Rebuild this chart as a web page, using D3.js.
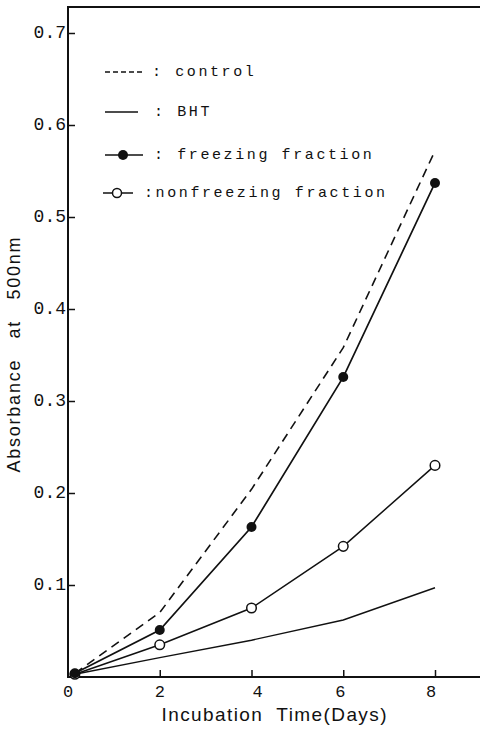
<!DOCTYPE html>
<html>
<head>
<meta charset="utf-8">
<script src="https://cdn.jsdelivr.net/npm/d3@7"></script>
<style>
  html, body { margin: 0; padding: 0; background: #fff; }
  svg { display: block; }
  text { white-space: pre; }
</style>
</head>
<body>
<svg id="chart" width="480" height="740"></svg>
<script>
// Incubation days (first reading taken just after day 0)
const days = [0.15, 2, 4, 6, 8];

// Absorbance at 500 nm for each treatment
const control     = [0.004, 0.070, 0.204, 0.358, 0.572];
const bht         = [0.003, 0.021, 0.040, 0.062, 0.097];
const freezing    = [0.004, 0.051, 0.163, 0.326, 0.537];
const nonfreezing = [0.003, 0.035, 0.075, 0.142, 0.230];

// Axis ticks and labels
const xTicks = [0, 2, 4, 6, 8];
const yTicks = [0.1, 0.2, 0.3, 0.4, 0.5, 0.6, 0.7];
const legendLabels = [": control", ": BHT", ": freezing fraction", ":nonfreezing fraction"];

const svg = d3.select("#chart");
const W = 480, H = 740;

const axisLeft = 68, axisBottom = 677, frameTop = 7;
const x = d3.scaleLinear().domain([0, 8]).range([axisLeft, 435]);
const y = d3.scaleLinear().domain([0, 0.7]).range([axisBottom, 33]);

const ink = "#111";
const monoFont = "'Liberation Mono', 'DejaVu Sans Mono', monospace";
const sansFont = "'Liberation Sans', Arial, sans-serif";

// Frame: left axis, bottom axis, top border
const frame = svg.append("g").attr("stroke", ink).attr("stroke-width", 2).attr("fill", "none");
frame.append("line").attr("x1", axisLeft).attr("x2", axisLeft).attr("y1", frameTop).attr("y2", axisBottom);
frame.append("line").attr("x1", axisLeft - 1).attr("x2", W).attr("y1", axisBottom).attr("y2", axisBottom);
frame.append("line").attr("x1", axisLeft - 1).attr("x2", W).attr("y1", frameTop).attr("y2", frameTop);

// Y axis: short inward ticks, labels left of the axis
const yAxis = d3.axisRight(y).tickValues(yTicks).tickSize(7).tickFormat("");
const gy = svg.append("g").attr("transform", `translate(${axisLeft},0)`).call(yAxis);
gy.select(".domain").remove();
gy.selectAll(".tick line").attr("stroke", ink).attr("stroke-width", 1.5);

svg.append("g").selectAll("text").data(yTicks).join("text")
  .attr("x", axisLeft - 2)
  .attr("y", d => y(d))
  .attr("text-anchor", "end")
  .attr("dominant-baseline", "central")
  .attr("font-family", monoFont)
  .attr("font-size", 18)
  .attr("fill", ink)
  .text(d => d3.format(".1f")(d));

// X axis: short inward ticks, labels below
const xAxis = d3.axisTop(x).tickValues(xTicks.filter(d => d > 0)).tickSize(7).tickFormat("");
const gx = svg.append("g").attr("transform", `translate(0,${axisBottom})`).call(xAxis);
gx.select(".domain").remove();
gx.selectAll(".tick line").attr("stroke", ink).attr("stroke-width", 1.5);

svg.append("g").selectAll("text").data(xTicks).join("text")
  .attr("x", d => x(d) + (d === 4 ? 6 : d === 8 ? -4 : d === 6 ? -3 : 0))
  .attr("y", 697)
  .attr("text-anchor", "middle")
  .attr("font-family", monoFont)
  .attr("font-size", 17)
  .attr("fill", ink)
  .text(d => d);

// Axis titles
svg.append("text")
  .attr("x", 274).attr("y", 721)
  .attr("text-anchor", "middle")
  .attr("font-family", sansFont)
  .attr("font-size", 19)
  .attr("textLength", 225)
  .attr("lengthAdjust", "spacing")
  .attr("fill", ink)
  .text("Incubation  Time(Days)");

svg.append("text")
  .attr("transform", "translate(20,355) rotate(-90)")
  .attr("text-anchor", "middle")
  .attr("font-family", sansFont)
  .attr("font-size", 18)
  .attr("textLength", 235)
  .attr("lengthAdjust", "spacing")
  .attr("fill", ink)
  .text("Absorbance   at   500nm");

// Data lines
const line = d3.line().x((d, i) => x(days[i])).y(d => y(d));
const plot = svg.append("g").attr("fill", "none").attr("stroke", ink);

plot.append("path").datum(control).attr("d", line)
  .attr("stroke-width", 1.6).attr("stroke-dasharray", "9,6");
plot.append("path").datum(bht).attr("d", line).attr("stroke-width", 1.4);
plot.append("path").datum(nonfreezing).attr("d", line).attr("stroke-width", 1.5);
plot.append("path").datum(freezing).attr("d", line).attr("stroke-width", 1.7);

// Markers
svg.append("g").selectAll("circle").data(nonfreezing).join("circle")
  .attr("cx", (d, i) => x(days[i])).attr("cy", d => y(d)).attr("r", 4.8)
  .attr("fill", "#fff").attr("stroke", ink).attr("stroke-width", 1.5);
svg.append("g").selectAll("circle").data(freezing).join("circle")
  .attr("cx", (d, i) => x(days[i])).attr("cy", d => y(d)).attr("r", 5)
  .attr("fill", ink);

// Legend
const legendRows = [
  { y: 72,  x1: 105, x2: 145, dash: "5,3", marker: null,   tx: 152 },
  { y: 112, x1: 105, x2: 138, dash: null,  marker: null,   tx: 154 },
  { y: 155, x1: 105, x2: 143, dash: null,  marker: "fill", tx: 154, mx: 123 },
  { y: 193, x1: 103, x2: 133, dash: null,  marker: "open", tx: 144, mx: 117 }
];
const lg = svg.append("g");
legendRows.forEach((r, i) => {
  lg.append("line").attr("x1", r.x1).attr("x2", r.x2).attr("y1", r.y).attr("y2", r.y)
    .attr("stroke", ink).attr("stroke-width", 1.5)
    .attr("stroke-dasharray", r.dash);
  if (r.marker === "fill") {
    lg.append("circle").attr("cx", r.mx).attr("cy", r.y).attr("r", 5).attr("fill", ink);
  } else if (r.marker === "open") {
    lg.append("circle").attr("cx", r.mx).attr("cy", r.y).attr("r", 4.5)
      .attr("fill", "#fff").attr("stroke", ink).attr("stroke-width", 1.5);
  }
  lg.append("text")
    .attr("x", r.tx).attr("y", r.y)
    .attr("dominant-baseline", "central")
    .attr("font-family", monoFont)
    .attr("font-size", 15)
    .attr("letter-spacing", 2.6)
    .attr("fill", ink)
    .text(legendLabels[i]);
});
</script>
</body>
</html>
